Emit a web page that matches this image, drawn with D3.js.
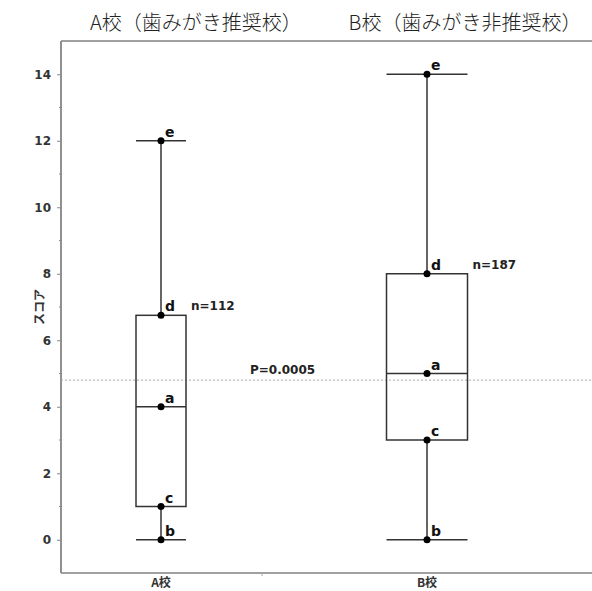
<!DOCTYPE html>
<html>
<head>
<meta charset="utf-8">
<script src="https://cdn.jsdelivr.net/npm/d3@7"></script>
<style>
  body { margin: 0; background: #fff; }
  svg { display: block; }
</style>
</head>
<body>
<div id="chart"></div>
<script>
// data
var groups = ["A校", "B校"];
var titles = ["A校（歯みがき推奨校）", "B校（歯みがき非推奨校）"];
var minVals = [0, 0];      // b
var q1Vals = [1, 3];       // c
var medVals = [4, 5];      // a
var q3Vals = [6.75, 8];    // d
var maxVals = [12, 14];    // e
var nLabels = ["n=112", "n=187"];
var pValue = 4.8;
var pLabel = "P=0.0005";
var yTicks = [0, 2, 4, 6, 8, 10, 12, 14];
var yMinor = [1, 3, 5, 7, 9, 11, 13];

var width = 592, height = 591;
var plotL = 61, plotT = 41, plotR = 600, plotB = 573;

var svg = d3.select("#chart").append("svg")
    .attr("width", width)
    .attr("height", height);

var y = d3.scaleLinear().domain([-1, 15]).range([plotB, plotT]);
var x = d3.scaleLinear().domain([0, 1]).range([161, 427]);
var boxW = [50, 81];
var titleX = [196, 465];

// titles
svg.selectAll(".title").data(titles).enter().append("text")
    .attr("x", function(d, i) { return titleX[i]; })
    .attr("y", 30)
    .attr("text-anchor", "middle")
    .style("font-family", "'Noto Sans CJK JP', sans-serif")
    .style("font-weight", 300)
    .style("font-size", "20px")
    .style("fill", "#222")
    .text(function(d) { return d; });

// frame
svg.append("line").attr("x1", plotL).attr("x2", plotR).attr("y1", plotT).attr("y2", plotT)
    .style("stroke", "#a0a0a0").style("stroke-width", 2);
svg.append("line").attr("x1", plotL).attr("x2", plotR).attr("y1", plotB).attr("y2", plotB)
    .style("stroke", "#a0a0a0").style("stroke-width", 2);
svg.append("line").attr("x1", plotL).attr("x2", plotL).attr("y1", plotT).attr("y2", plotB)
    .style("stroke", "#909090").style("stroke-width", 2);

// y axis
var yAxis = svg.append("g")
    .attr("transform", "translate(" + plotL + ",0)")
    .call(d3.axisLeft(y).tickValues(yTicks).tickSize(4).tickPadding(6));
yAxis.select(".domain").remove();
yAxis.selectAll(".tick line").style("stroke", "#888");
yAxis.selectAll(".tick text")
    .style("font-family", "Verdana, 'DejaVu Sans', sans-serif")
    .style("font-weight", "bold")
    .style("font-size", "12px")
    .style("fill", "#333");
svg.selectAll(".minor").data(yMinor).enter().append("line")
    .attr("x1", plotL - 2).attr("x2", plotL)
    .attr("y1", function(d) { return y(d); })
    .attr("y2", function(d) { return y(d); })
    .style("stroke", "#888");

svg.append("text")
    .attr("transform", "translate(44," + y(7) + ") rotate(-90)")
    .attr("text-anchor", "middle")
    .style("font-family", "'Noto Sans CJK JP', sans-serif")
    .style("font-weight", "bold")
    .style("font-size", "12px")
    .style("fill", "#333")
    .text("スコア");

// x labels
svg.selectAll(".xlab").data(groups).enter().append("text")
    .attr("x", function(d, i) { return x(i); })
    .attr("y", 587)
    .attr("text-anchor", "middle")
    .style("font-family", "'Noto Sans CJK JP', sans-serif")
    .style("font-weight", "bold")
    .style("font-size", "12px")
    .style("fill", "#333")
    .text(function(d) { return d; });
svg.append("line").attr("x1", 262).attr("x2", 262).attr("y1", plotB).attr("y2", plotB + 3)
    .style("stroke", "#aaa");

// p-value reference line
svg.append("line")
    .attr("x1", plotL).attr("x2", plotR)
    .attr("y1", y(pValue)).attr("y2", y(pValue))
    .style("stroke", "#aaa")
    .style("stroke-dasharray", "2,2");
svg.append("text")
    .attr("x", 250).attr("y", y(pValue) - 6)
    .style("font-family", "Verdana, 'DejaVu Sans', sans-serif")
    .style("font-weight", "bold")
    .style("font-size", "12px")
    .style("fill", "#222")
    .text(pLabel);

var lineStyle = function(sel) {
  return sel.style("stroke", "#333").style("stroke-width", 1.5).style("fill", "none");
};

groups.forEach(function(g, i) {
  var cx = x(i), hw = boxW[i] / 2;
  // whiskers
  lineStyle(svg.append("line").attr("x1", cx).attr("x2", cx).attr("y1", y(maxVals[i])).attr("y2", y(q3Vals[i])));
  lineStyle(svg.append("line").attr("x1", cx).attr("x2", cx).attr("y1", y(q1Vals[i])).attr("y2", y(minVals[i])));
  // caps
  lineStyle(svg.append("line").attr("x1", cx - hw).attr("x2", cx + hw).attr("y1", y(maxVals[i])).attr("y2", y(maxVals[i])));
  lineStyle(svg.append("line").attr("x1", cx - hw).attr("x2", cx + hw).attr("y1", y(minVals[i])).attr("y2", y(minVals[i])));
  // box
  lineStyle(svg.append("rect").attr("x", cx - hw).attr("width", boxW[i])
      .attr("y", y(q3Vals[i])).attr("height", y(q1Vals[i]) - y(q3Vals[i])));
  lineStyle(svg.append("line").attr("x1", cx - hw).attr("x2", cx + hw).attr("y1", y(medVals[i])).attr("y2", y(medVals[i])));

  var pts = [["b", minVals[i]], ["c", q1Vals[i]], ["a", medVals[i]], ["d", q3Vals[i]], ["e", maxVals[i]]];
  pts.forEach(function(p) {
    svg.append("circle").attr("cx", cx).attr("cy", y(p[1])).attr("r", 3.5).style("fill", "#000");
    svg.append("text")
      .attr("x", cx + 4).attr("y", y(p[1]) - 4)
      .style("font-family", "Verdana, 'DejaVu Sans', sans-serif")
      .style("font-size", "14px")
      .style("font-weight", "bold")
      .style("fill", "#111")
      .text(p[0]);
  });

  svg.append("text")
    .attr("x", cx + hw + 5).attr("y", y(q3Vals[i]) - 5)
    .style("font-family", "Verdana, 'DejaVu Sans', sans-serif")
    .style("font-weight", "bold")
    .style("font-size", "12px")
    .style("fill", "#222")
    .text(nLabels[i]);
});
</script>
</body>
</html>
